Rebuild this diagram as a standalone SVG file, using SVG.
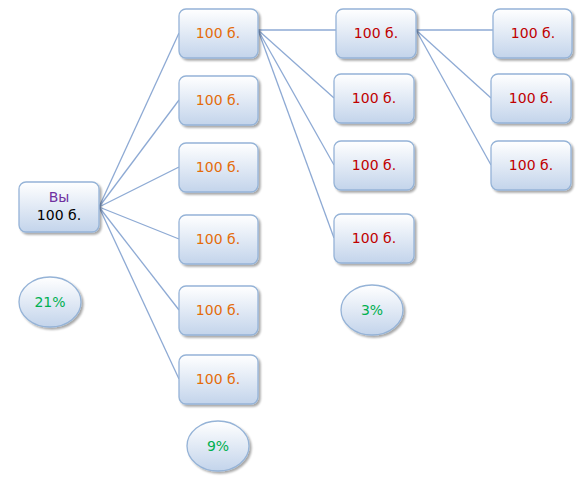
<svg xmlns="http://www.w3.org/2000/svg" width="584" height="480" viewBox="0 0 584 480">
<defs>
<linearGradient id="g" x1="0" y1="0" x2="0" y2="1"><stop offset="0" stop-color="#ffffff"/><stop offset="1" stop-color="#c3d4eb"/></linearGradient>
<linearGradient id="ge" x1="0" y1="0" x2="0" y2="1"><stop offset="0" stop-color="#ffffff"/><stop offset="1" stop-color="#c3d4eb"/></linearGradient>
<filter id="sh" x="-10%" y="-10%" width="130%" height="130%"><feGaussianBlur in="SourceAlpha" stdDeviation="1.2"/><feOffset dx="1.5" dy="2" result="b"/><feComponentTransfer><feFuncA type="linear" slope="0.35"/></feComponentTransfer><feMerge><feMergeNode/><feMergeNode in="SourceGraphic"/></feMerge></filter>
</defs>
<style>
.b{fill:url(#g);stroke:#95b3d7;stroke-width:1.3;filter:url(#sh)}
.e{fill:url(#ge);stroke:#95b3d7;stroke-width:1.3;filter:url(#sh)}
text{font-family:"DejaVu Sans",Verdana,sans-serif;font-size:14px;text-anchor:middle}
.o{fill:#e46c0a}.r{fill:#c00000}.p{fill:#7030a0}.k{fill:#000}.gr{fill:#00b050}
.c line{stroke:#8eaad4;stroke-width:1.3}
</style>
<g class="c">
<line x1="99" y1="207" x2="179" y2="33"/>
<line x1="99" y1="207" x2="179" y2="100"/>
<line x1="99" y1="207" x2="179" y2="167"/>
<line x1="99" y1="207" x2="179" y2="239"/>
<line x1="99" y1="207" x2="179" y2="310"/>
<line x1="99" y1="207" x2="179" y2="379"/>
<line x1="258" y1="30" x2="336" y2="30"/>
<line x1="258" y1="30" x2="334" y2="98"/>
<line x1="258" y1="30" x2="334" y2="165"/>
<line x1="258" y1="30" x2="334" y2="238"/>
<line x1="416" y1="30" x2="493" y2="30"/>
<line x1="416" y1="30" x2="491" y2="98"/>
<line x1="416" y1="30" x2="491" y2="165"/>
</g>
<g id="you"><rect class="b" x="19" y="182" width="80" height="50" rx="7"/><text class="p" x="59" y="202">Вы</text><text class="k" x="59" y="220">100 б.</text></g>
<g id="a1"><rect class="b" x="179" y="9" width="79" height="49" rx="7"/><text class="o" x="218" y="38">100 б.</text></g>
<g id="a2"><rect class="b" x="179" y="76" width="79" height="49" rx="7"/><text class="o" x="218" y="105">100 б.</text></g>
<g id="a3"><rect class="b" x="179" y="143" width="79" height="49" rx="7"/><text class="o" x="218" y="172">100 б.</text></g>
<g id="a4"><rect class="b" x="179" y="215" width="79" height="49" rx="7"/><text class="o" x="218" y="244">100 б.</text></g>
<g id="a5"><rect class="b" x="179" y="286" width="79" height="49" rx="7"/><text class="o" x="218" y="315">100 б.</text></g>
<g id="a6"><rect class="b" x="179" y="355" width="79" height="49" rx="7"/><text class="o" x="218" y="384">100 б.</text></g>
<g id="b1"><rect class="b" x="336" y="9" width="80" height="49" rx="7"/><text class="r" x="376" y="38">100 б.</text></g>
<g id="b2"><rect class="b" x="334" y="74" width="80" height="49" rx="7"/><text class="r" x="374" y="103">100 б.</text></g>
<g id="b3"><rect class="b" x="334" y="141" width="80" height="49" rx="7"/><text class="r" x="374" y="170">100 б.</text></g>
<g id="b4"><rect class="b" x="334" y="214" width="80" height="49" rx="7"/><text class="r" x="374" y="243">100 б.</text></g>
<g id="c1"><rect class="b" x="493" y="9" width="79" height="49" rx="7"/><text class="r" x="533" y="38">100 б.</text></g>
<g id="c2"><rect class="b" x="491" y="74" width="80" height="49" rx="7"/><text class="r" x="531" y="103">100 б.</text></g>
<g id="c3"><rect class="b" x="491" y="141" width="80" height="49" rx="7"/><text class="r" x="531" y="170">100 б.</text></g>
<g id="p21"><ellipse class="e" cx="50" cy="302" rx="31" ry="25"/><text class="gr" x="50" y="307">21%</text></g>
<g id="p3"><ellipse class="e" cx="372" cy="310" rx="31" ry="25"/><text class="gr" x="372" y="315">3%</text></g>
<g id="p9"><ellipse class="e" cx="218" cy="446" rx="31" ry="25"/><text class="gr" x="218" y="451">9%</text></g>
</svg>
